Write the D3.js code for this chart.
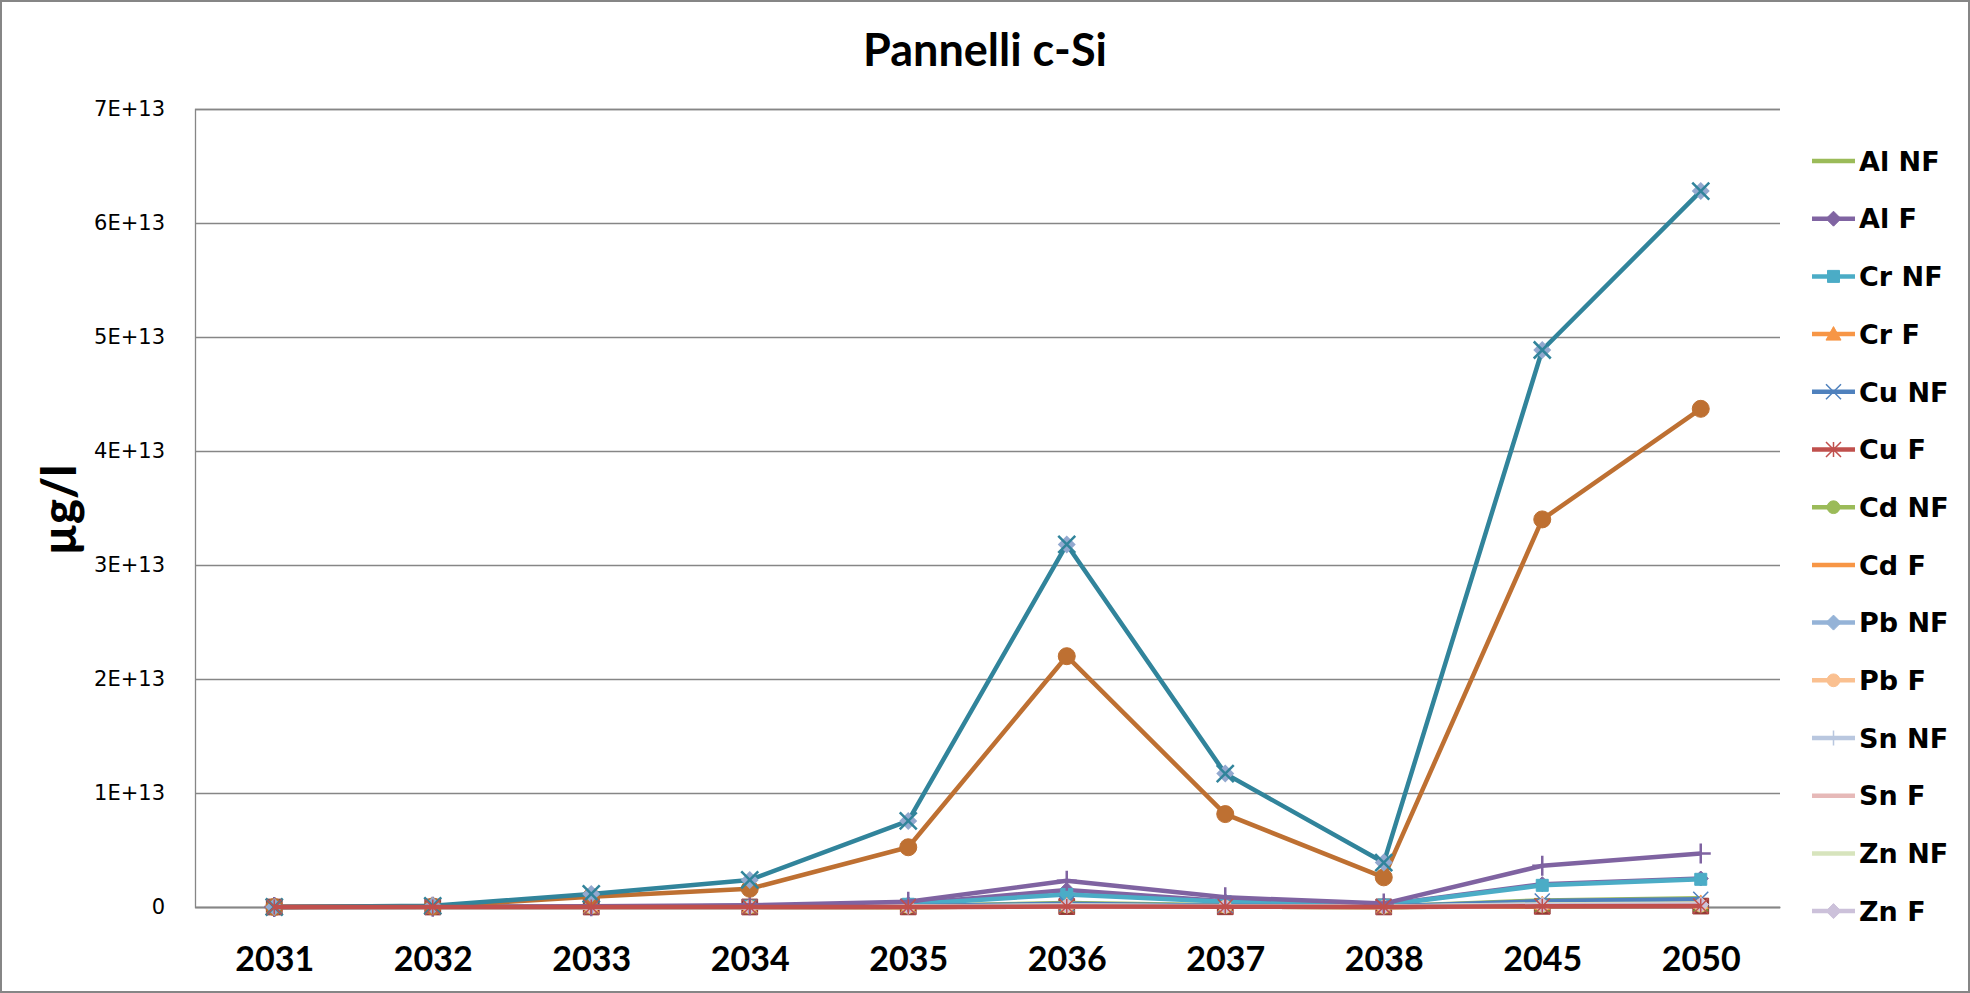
<!DOCTYPE html>
<html>
<head>
<meta charset="utf-8">
<script src="https://cdn.jsdelivr.net/npm/d3@7"></script>
<style>
  html, body { margin: 0; padding: 0; background: #fff; }
  svg { display: block; }
</style>
</head>
<body>
<svg id="chart" width="1970" height="993"></svg>
<script>
// ---------------- DATA ----------------
const title = "Pannelli c-Si";
const yAxisTitle = "µg/l";
const years = ["2031", "2032", "2033", "2034", "2035", "2036", "2037", "2038", "2045", "2050"];
const yTicks = [0, 1e13, 2e13, 3e13, 4e13, 5e13, 6e13, 7e13];
const yTickLabels = ["0", "1E+13", "2E+13", "3E+13", "4E+13", "5E+13", "6E+13", "7E+13"];

// series shown in the legend
const alNF = [0, 5e9, 1e10, 3e10, 8e10, 3.5e11, 1.5e11, 5e10, 5.8e11, 7.6e11];
const alF  = [0, 1e10, 3e10, 8e10, 2.6e11, 1.5e12, 5e11, 2e11, 2.0e12, 2.5e12];
const crNF = [0, 1e10, 3e10, 8e10, 2.4e11, 1.1e12, 4.6e11, 1.7e11, 1.9e12, 2.43e12];
const crF  = [0, 3e9, 6e9, 1.5e10, 4e10, 1.8e11, 7e10, 2.5e10, 3e11, 4e11];
const cuNF = [0, 5e9, 1e10, 2.5e10, 7e10, 2.8e11, 1.2e11, 4e10, 5.2e11, 6.8e11];
const cuF  = [0, 1e9, 2e9, 5e9, 1e10, 4e10, 2e10, 1e10, 6e10, 8e10];
const cdNF = [0, 1e9, 2e9, 4e9, 1e10, 5e10, 2e10, 8e9, 8e10, 1e11];
const cdF  = [0, 1e9, 2e9, 4e9, 1e10, 5e10, 2e10, 8e9, 8e10, 1e11];
const pbNF = [0, 2e9, 4e9, 8e9, 2e10, 9e10, 4e10, 1.5e10, 1.5e11, 2e11];
const pbF  = [0, 1e9, 3e9, 6e9, 1.5e10, 7e10, 3e10, 1e10, 1.2e11, 1.5e11];
const snNF = [0, 2e9, 5e9, 1e10, 2.5e10, 1.2e11, 5e10, 2e10, 2e11, 2.5e11];
const snF  = [0, 1e9, 3e9, 6e9, 1.5e10, 7e10, 3e10, 1e10, 1.2e11, 1.5e11];
const znNF = [0, 2e9, 5e9, 1e10, 3e10, 1.4e11, 6e10, 2e10, 2.3e11, 3e11];
const znF  = [0, 1e9, 3e9, 7e9, 2e10, 1e11, 4e10, 1.5e10, 1.6e11, 2.1e11];

// further series plotted but not listed in the (truncated) legend
const extraA = [0, 1.0e11, 1.15e12, 2.37e12, 7.55e12, 3.18e13, 1.17e13, 3.9e12, 4.886e13, 6.28e13];
const extraB = [0, 5e10, 9e11, 1.6e12, 5.24e12, 2.20e13, 8.15e12, 2.6e12, 3.40e13, 4.37e13];
const extraC = [0, 2e10, 6e10, 1.5e11, 4.6e11, 2.3e12, 8.5e11, 3e11, 3.62e12, 4.7e12];
const extraD = [0, 1e9, 2e9, 4e9, 1e10, 4e10, 2e10, 8e9, 6e10, 8e10];
const extraE = [0, 2e9, 4e9, 8e9, 2e10, 8e10, 3e10, 1e10, 1.2e11, 1.6e11];

const legendNames = ["Al NF", "Al F", "Cr NF", "Cr F", "Cu NF", "Cu F", "Cd NF", "Cd F",
                     "Pb NF", "Pb F", "Sn NF", "Sn F", "Zn NF", "Zn F"];

// ---------------- STYLES ----------------
const styles = {
  "Al NF": { color: "#9BBB59", marker: "none" },
  "Al F":  { color: "#8064A2", marker: "diamond" },
  "Cr NF": { color: "#4BACC6", marker: "square" },
  "Cr F":  { color: "#F79646", marker: "triangle" },
  "Cu NF": { color: "#4F81BD", marker: "x" },
  "Cu F":  { color: "#C0504D", marker: "star" },
  "Cd NF": { color: "#9BBB59", marker: "circle" },
  "Cd F":  { color: "#F79646", marker: "none" },
  "Pb NF": { color: "#95B3D7", marker: "diamond" },
  "Pb F":  { color: "#FAC090", marker: "circle" },
  "Sn NF": { color: "#B9C7DF", marker: "plus" },
  "Sn F":  { color: "#E6B9B8", marker: "none" },
  "Zn NF": { color: "#D7E4BD", marker: "none" },
  "Zn F":  { color: "#CCC1DA", marker: "diamond" },
  "extraA": { color: "#31849B", marker: "xdiamond" },
  "extraB": { color: "#BE7032", marker: "bigcircle" },
  "extraC": { color: "#7F63A1", marker: "plusbig" },
  "extraD": { color: "#953735", marker: "squarebig" },
  "extraE": { color: "#77933C", marker: "triangle" }
};

// drawing order (later on top)
const drawOrder = [
  ["extraD", extraD], ["extraE", extraE],
  ["Al NF", alNF], ["Al F", alF], ["Cr NF", crNF], ["Cr F", crF], ["Cu NF", cuNF],
  ["Cd NF", cdNF], ["Cd F", cdF], ["Pb NF", pbNF], ["Pb F", pbF], ["Sn NF", snNF],
  ["Sn F", snF], ["Zn NF", znNF], ["Zn F", znF],
  ["extraC", extraC], ["extraB", extraB], ["extraA", extraA], ["Cu F", cuF]
];

// ---------------- LAYOUT ----------------
const W = 1970, H = 993;
const plot = { left: 195, right: 1780, top: 109, bottom: 907 };
const MS = 15; // marker size

const svg = d3.select("#chart");
svg.append("rect").attr("x", 1).attr("y", 1).attr("width", W - 2).attr("height", H - 2)
  .attr("fill", "#fff").attr("stroke", "#868686").attr("stroke-width", 2);

const x = d3.scalePoint().domain(years).range([plot.left, plot.right]).padding(0.5);
const y = d3.scaleLinear().domain([0, 7e13]).range([plot.bottom, plot.top]);

// gridlines + y axis
const yAxis = d3.axisLeft(y).tickValues(yTicks)
  .tickFormat((d, i) => yTickLabels[i]).tickSize(-(plot.right - plot.left)).tickPadding(30);
const gy = svg.append("g").attr("transform", `translate(${plot.left},0)`).call(yAxis);
gy.selectAll(".tick line").attr("stroke", "#868686").attr("stroke-width", 1.3);
gy.select(".domain").attr("stroke", "#868686").attr("stroke-width", 1.3);
gy.selectAll(".tick text").attr("font-family", "DejaVu Sans").attr("font-size", 21)
  .attr("fill", "#000");

// x axis
const xAxis = d3.axisBottom(x).tickSize(0).tickPadding(40);
const gx = svg.append("g").attr("transform", `translate(0,${plot.bottom})`).call(xAxis);
gx.select(".domain").attr("stroke", "#868686").attr("stroke-width", 1.3);
gx.selectAll(".tick text").attr("font-family", "Lato").attr("font-weight", "bold")
  .attr("font-size", 34).attr("fill", "#000");

// title
svg.append("text").attr("x", 985).attr("y", 66).attr("text-anchor", "middle")
  .attr("font-family", "Lato").attr("font-weight", "bold").attr("font-size", 45)
  .attr("fill", "#000").text(title);

// y-axis title
svg.append("text").attr("transform", "translate(76,510) rotate(-90)")
  .attr("text-anchor", "middle").attr("font-family", "Lato").attr("font-weight", "900")
  .attr("font-size", 47).attr("fill", "#000").text(yAxisTitle);

// ---------------- MARKERS ----------------
function drawMarker(g, type, color, cx, cy, s) {
  const h = s / 2;
  const t = `translate(${cx},${cy})`;
  if (type === "none") return;
  if (type === "diamond") {
    g.append("path").attr("transform", t).attr("d", `M0,${-h}L${h},0L0,${h}L${-h},0Z`)
      .attr("fill", color).attr("stroke", color);
  } else if (type === "square" || type === "squarebig") {
    const hh = type === "squarebig" ? h * 1.05 : h * 0.8;
    g.append("path").attr("transform", t).attr("d", `M${-hh},${-hh}H${hh}V${hh}H${-hh}Z`)
      .attr("fill", color).attr("stroke", color);
  } else if (type === "triangle") {
    g.append("path").attr("transform", t).attr("d", `M0,${-h}L${h},${h * 0.8}L${-h},${h * 0.8}Z`)
      .attr("fill", color).attr("stroke", color);
  } else if (type === "circle" || type === "bigcircle") {
    const r = type === "bigcircle" ? 8.5 : h * 0.85;
    g.append("circle").attr("cx", cx).attr("cy", cy).attr("r", r)
      .attr("fill", color).attr("stroke", color);
  } else if (type === "x") {
    g.append("path").attr("transform", t)
      .attr("d", `M${-h},${-h}L${h},${h}M${-h},${h}L${h},${-h}`)
      .attr("stroke", color).attr("stroke-width", 1.5).attr("fill", "none");
  } else if (type === "star") {
    g.append("path").attr("transform", t)
      .attr("d", `M${-h},${-h}L${h},${h}M${-h},${h}L${h},${-h}M0,${-h}V${h}`)
      .attr("stroke", color).attr("stroke-width", 1.5).attr("fill", "none");
  } else if (type === "plus" || type === "plusbig") {
    const hh = type === "plusbig" ? 10 : h;
    g.append("path").attr("transform", t)
      .attr("d", `M${-hh},0H${hh}M0,${-hh}V${hh}`)
      .attr("stroke", color).attr("stroke-width", type === "plusbig" ? 2.5 : 1.5).attr("fill", "none");
  } else if (type === "xdiamond") {
    g.append("path").attr("transform", t).attr("d", `M0,-9L9,0L0,9L-9,0Z`)
      .attr("fill", "#93A9CF").attr("stroke", "none");
    g.append("path").attr("transform", t)
      .attr("d", `M-8.5,-8.5L8.5,8.5M-8.5,8.5L8.5,-8.5`)
      .attr("stroke", color).attr("stroke-width", 2.5).attr("fill", "none");
  }
}

// ---------------- SERIES ----------------
const line = d3.line().x((d, i) => x(years[i])).y(d => y(d));
const seriesG = svg.append("g");
drawOrder.forEach(([name, vals]) => {
  const st = styles[name];
  const g = seriesG.append("g");
  g.append("path").attr("d", line(vals)).attr("fill", "none")
    .attr("stroke", st.color).attr("stroke-width", 4.5).attr("stroke-linejoin", "round");
  vals.forEach((v, i) => drawMarker(g, st.marker, st.color, x(years[i]), y(v), MS));
});

// ---------------- LEGEND ----------------
const lg = svg.append("g");
legendNames.forEach((name, i) => {
  const st = styles[name];
  const cy = 161 + i * 57.7;
  lg.append("line").attr("x1", 1812).attr("x2", 1855).attr("y1", cy).attr("y2", cy)
    .attr("stroke", st.color).attr("stroke-width", 4.5);
  drawMarker(lg, st.marker, st.color, 1833.5, cy, MS);
  lg.append("text").attr("x", 1859).attr("y", cy).attr("dy", "0.36em")
    .attr("font-family", "DejaVu Sans").attr("font-weight", "bold").attr("font-size", 27)
    .attr("fill", "#000").text(name);
});
</script>
</body>
</html>
